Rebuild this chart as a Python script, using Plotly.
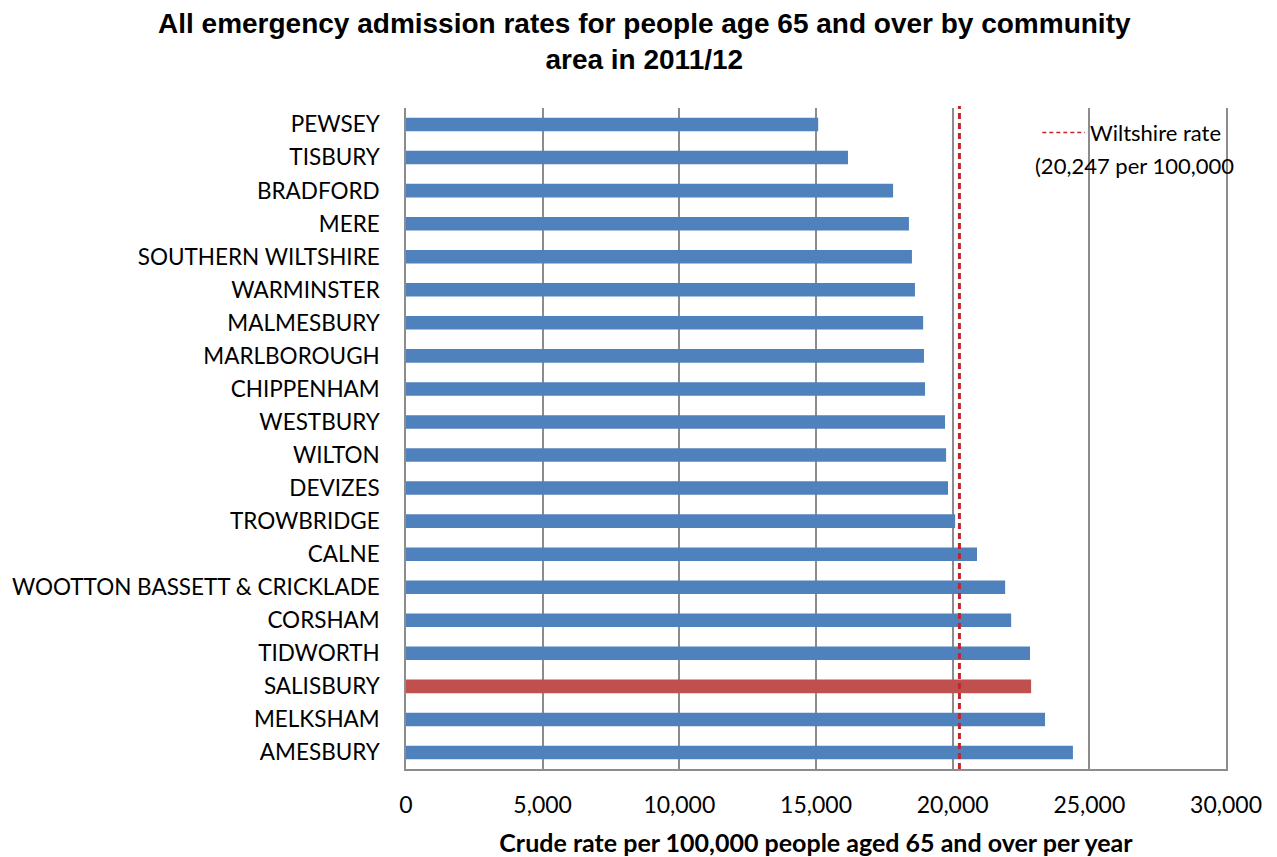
import plotly.graph_objects as go

# Community areas, listed top to bottom as plotted
areas = [
    "PEWSEY", "TISBURY", "BRADFORD", "MERE", "SOUTHERN WILTSHIRE",
    "WARMINSTER", "MALMESBURY", "MARLBOROUGH", "CHIPPENHAM", "WESTBURY",
    "WILTON", "DEVIZES", "TROWBRIDGE", "CALNE", "WOOTTON BASSETT & CRICKLADE",
    "CORSHAM", "TIDWORTH", "SALISBURY", "MELKSHAM", "AMESBURY",
]
# Crude emergency admission rate per 100,000 people aged 65+ (2011/12)
rates = [
    15080, 16170, 17820, 18400, 18510,
    18620, 18920, 18950, 18990, 19720,
    19760, 19830, 20090, 20890, 21920,
    22140, 22830, 22870, 23380, 24400,
]
wiltshire_rate = 20247
highlight_area = "SALISBURY"
x_ticks = [0, 5000, 10000, 15000, 20000, 25000, 30000]
x_tick_labels = ["0", "5,000", "10,000", "15,000", "20,000", "25,000", "30,000"]

BLUE = "#4F81BD"
RED_BAR = "#C0504D"
RED_LINE = "#C0262D"
GRID = "#8C8C8C"
LABEL_FONT = "Lato"

bar_colors = [RED_BAR if a == highlight_area else BLUE for a in areas]

fig = go.Figure()
fig.add_trace(go.Bar(
    x=rates,
    y=areas,
    orientation="h",
    marker=dict(color=bar_colors, line=dict(width=0)),
    showlegend=False,
    hoverinfo="x+y",
))

# Wiltshire-wide rate as a vertical dashed reference line
fig.add_shape(
    type="line", xref="x", yref="paper",
    x0=wiltshire_rate, x1=wiltshire_rate, y0=0, y1=1.003,
    line=dict(color=RED_LINE, width=3, dash="6px,4px"),
    layer="above",
)

# Key for the reference line
fig.add_shape(
    type="line", xref="paper", yref="paper",
    x0=0.776, x1=0.828, y0=0.963, y1=0.963,
    line=dict(color=RED_LINE, width=1.5, dash="4px,3px"),
)
fig.add_annotation(
    xref="paper", yref="paper", x=0.832, y=0.963,
    xanchor="left", yanchor="middle", showarrow=False,
    text="Wiltshire rate",
    font=dict(family=LABEL_FONT, size=22, color="#000000"),
)
fig.add_annotation(
    xref="paper", yref="paper", x=0.765, y=0.913,
    xanchor="left", yanchor="middle", showarrow=False,
    text="(20,247 per 100,000",
    font=dict(family=LABEL_FONT, size=22, color="#000000"),
)

# Chart title, two centred lines above the plot area
fig.add_annotation(
    xref="paper", yref="paper", x=0.291, y=1.1,
    xanchor="center", yanchor="middle", showarrow=False,
    text="All emergency admission rates for people age 65 and over by community<br>area in 2011/12",
    align="center",
    font=dict(family="Liberation Sans", size=28, color="#000000", weight="bold"),
)

fig.update_layout(
    width=1277,
    height=857,
    margin=dict(l=406, r=51, t=108, b=88, autoexpand=False),
    paper_bgcolor="white",
    plot_bgcolor="white",
    bargap=0.59,
    xaxis=dict(
        range=[0, 30000],
        automargin=False,
        tickmode="array",
        tickvals=x_ticks,
        ticktext=x_tick_labels,
        showgrid=True,
        gridcolor=GRID,
        gridwidth=1.5,
        showline=True,
        linecolor=GRID,
        linewidth=1.5,
        zeroline=False,
        ticks="",
        ticklabelstandoff=15,
        tickfont=dict(family=LABEL_FONT, size=23, color="#000000"),
        title=dict(
            text="Crude rate per 100,000 people aged 65 and over per year",
            font=dict(family=LABEL_FONT, size=25, color="#000000", weight="bold"),
            standoff=17,
        ),
    ),
    yaxis=dict(
        autorange="reversed",
        automargin=False,
        categoryorder="array",
        categoryarray=areas,
        showgrid=False,
        showline=True,
        mirror=True,
        linecolor=GRID,
        linewidth=1.5,
        ticks="",
        ticklabelstandoff=20,
        tickfont=dict(family=LABEL_FONT, size=22.5, color="#000000"),
    ),
)

fig.write_html("out.html")
